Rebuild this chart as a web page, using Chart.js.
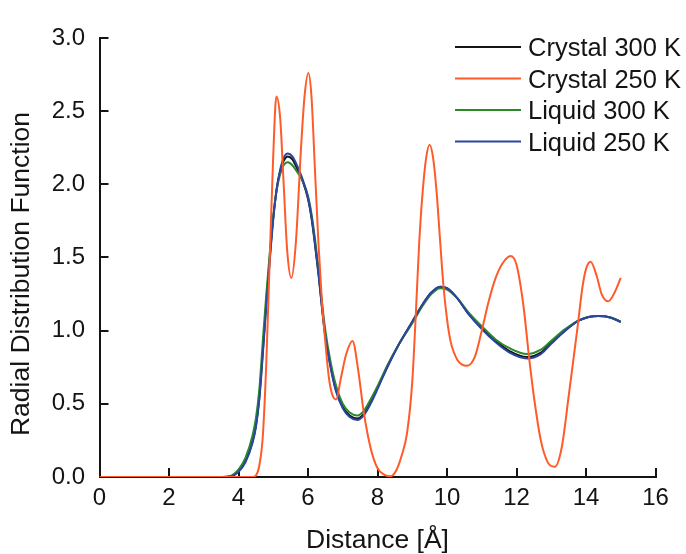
<!DOCTYPE html>
<html>
<head>
<meta charset="utf-8">
<script src="https://cdn.jsdelivr.net/npm/chart.js@4/dist/chart.umd.min.js"></script>
<style>
  html, body { margin: 0; padding: 0; background: #fff; }
  canvas { display: block; }
</style>
</head>
<body>
<canvas id="rdf" width="686" height="554"></canvas>
<script>
// Axis ticks
const xTicks = [0, 2, 4, 6, 8, 10, 12, 14, 16];
const xTickLabels = ['0', '2', '4', '6', '8', '10', '12', '14', '16'];
const yTicks = [0, 0.5, 1.0, 1.5, 2.0, 2.5, 3.0];
const yTickLabels = ['0.0', '0.5', '1.0', '1.5', '2.0', '2.5', '3.0'];

const seriesNames = ['Crystal 300 K', 'Crystal 250 K', 'Liquid 300 K', 'Liquid 250 K'];

// Crystal 250 K
const crystal250X = [0, 4.4, 4.5, 4.6, 4.7, 4.8, 4.9, 5.0, 5.09, 5.2, 5.3, 5.4, 5.52, 5.65, 5.8, 5.9, 6.01,
  6.1, 6.2, 6.3, 6.4, 6.5, 6.6, 6.7, 6.81, 6.95, 7.1, 7.28, 7.45, 7.6, 7.8, 8.0, 8.2, 8.37,
  8.55, 8.7, 8.85, 9.0, 9.1, 9.2, 9.3, 9.4, 9.5, 9.6, 9.7, 9.8, 9.9, 10.0, 10.1, 10.3, 10.58,
  10.8, 11.0, 11.2, 11.4, 11.6, 11.83, 12.0, 12.2, 12.36, 12.5, 12.7, 12.9, 13.1,
  13.3, 13.5, 13.75, 13.9, 14.0, 14.13, 14.3, 14.45, 14.64, 14.8, 15.0];
const crystal250Y = [0, 0, 0.01, 0.08, 0.28, 0.78, 1.5, 2.2, 2.6, 2.45, 2.0, 1.55, 1.36, 1.6, 2.25, 2.6, 2.76,
  2.6, 2.1, 1.6, 1.2, 0.92, 0.68, 0.56, 0.53, 0.68, 0.84, 0.93, 0.72, 0.45, 0.2, 0.06, 0.015, 0.005,
  0.05, 0.15, 0.3, 0.65, 1.1, 1.6, 1.95, 2.18, 2.27, 2.18, 1.95, 1.62, 1.3, 1.08, 0.93, 0.8, 0.76,
  0.82, 1.0, 1.2, 1.36, 1.46, 1.51, 1.45, 1.17, 0.82, 0.55, 0.25, 0.1, 0.07,
  0.2, 0.55, 1.01, 1.3, 1.42, 1.47, 1.38, 1.25, 1.2, 1.25, 1.36];

// Distances shared by the other three curves
const smoothX = [0, 3.55, 3.8, 4.0, 4.2, 4.4, 4.5, 4.6, 4.7, 4.8,
  4.9, 5.0, 5.1, 5.2, 5.3, 5.42, 5.55, 5.7, 5.85, 6.0,
  6.1, 6.2, 6.3, 6.4, 6.5, 6.64, 6.8, 7.0, 7.2, 7.42,
  7.6, 7.8, 8.0, 8.3, 8.6, 9.0, 9.3, 9.55, 9.8, 10.0,
  10.3, 10.6, 11.0, 11.4, 11.8, 12.3, 12.7, 13.0, 13.4, 13.8,
  14.35, 14.7, 15.0];
const crystal300Y = [0, 0, 0.005, 0.04, 0.11, 0.24, 0.35, 0.55, 0.86, 1.19,
  1.5, 1.77, 1.97, 2.09, 2.16, 2.19, 2.17, 2.1, 2.02, 1.9,
  1.77, 1.59, 1.39, 1.16, 0.96, 0.77, 0.6, 0.48, 0.42, 0.4,
  0.43, 0.51, 0.61, 0.76, 0.9, 1.06, 1.18, 1.26, 1.3, 1.29,
  1.22, 1.12, 1.02, 0.93, 0.86, 0.82, 0.85, 0.92, 1.0, 1.07,
  1.1, 1.09, 1.06];
const liquid300Y = [0, 0, 0.01, 0.05, 0.13, 0.28, 0.40, 0.6, 0.93, 1.25,
  1.53, 1.78, 1.96, 2.07, 2.13, 2.15, 2.13, 2.08, 2.02, 1.92,
  1.8, 1.63, 1.43, 1.2, 1.0, 0.8, 0.63, 0.5, 0.44, 0.42,
  0.45, 0.53, 0.62, 0.77, 0.9, 1.05, 1.17, 1.25, 1.29, 1.28,
  1.22, 1.13, 1.03, 0.94, 0.88, 0.84, 0.87, 0.93, 1.01, 1.07,
  1.1, 1.09, 1.06];
const liquid250Y = [0, 0, 0.005, 0.035, 0.1, 0.23, 0.34, 0.53, 0.84, 1.17,
  1.48, 1.76, 1.97, 2.1, 2.18, 2.21, 2.19, 2.12, 2.03, 1.91,
  1.78, 1.6, 1.4, 1.17, 0.96, 0.76, 0.59, 0.47, 0.41, 0.39,
  0.42, 0.5, 0.6, 0.76, 0.9, 1.06, 1.18, 1.26, 1.3, 1.29,
  1.22, 1.12, 1.01, 0.92, 0.85, 0.81, 0.84, 0.91, 1.0, 1.07,
  1.1, 1.09, 1.06];

const FONT = '"Liberation Sans", Arial, Helvetica, sans-serif';
const INK = '#141414';

const pts = (xs, ys) => xs.map((x, i) => ({ x, y: ys[i] }));

const line = (label, data, color, width, order) => ({
  label, data, order,
  borderColor: color,
  backgroundColor: color,
  borderWidth: width,
  pointRadius: 0,
  fill: false,
  cubicInterpolationMode: 'monotone'
});

// Legend at the upper right and the rotated y-axis title
const annotations = {
  id: 'annotations',
  afterDraw(chart) {
    const ctx = chart.ctx;
    ctx.save();
    ctx.fillStyle = INK;
    ctx.font = '26.5px ' + FONT;
    ctx.textAlign = 'center';
    ctx.textBaseline = 'alphabetic';
    ctx.translate(29, 274);
    ctx.rotate(-Math.PI / 2);
    ctx.fillText('Radial Distribution Function', 0, 0);
    ctx.restore();

    ctx.save();
    ctx.font = '25.5px ' + FONT;
    ctx.textAlign = 'left';
    ctx.textBaseline = 'alphabetic';
    const rows = [47, 78.5, 110, 141.5];
    chart.data.datasets.forEach((ds, i) => {
      const y = rows[i];
      ctx.strokeStyle = ds.borderColor;
      ctx.lineWidth = 2;
      ctx.beginPath();
      ctx.moveTo(455, y);
      ctx.lineTo(521, y);
      ctx.stroke();
      ctx.fillStyle = INK;
      ctx.fillText(ds.label, 528, y + 9);
    });
    ctx.restore();
  }
};

new Chart(document.getElementById('rdf'), {
  type: 'line',
  data: {
    datasets: [
      line(seriesNames[0], pts(smoothX, crystal300Y), '#151515', 2, 3),
      line(seriesNames[1], pts(crystal250X, crystal250Y), '#ff5a2a', 2, 0),
      line(seriesNames[2], pts(smoothX, liquid300Y), '#2a8a2a', 2, 2),
      line(seriesNames[3], pts(smoothX, liquid250Y), '#2c46a0', 2, 1)
    ]
  },
  options: {
    responsive: false,
    animation: false,
    layout: { padding: { left: 0, right: 30.5, top: 26, bottom: 0 } },
    plugins: { legend: { display: false }, tooltip: { enabled: false } },
    scales: {
      x: {
        type: 'linear',
        min: 0, max: 16,
        afterBuildTicks: (s) => { s.ticks = xTicks.map(v => ({ value: v })); },
        afterFit: (s) => { s.height = 77; },
        ticks: {
          padding: 16,
          color: INK,
          font: { family: FONT, size: 24 },
          callback: (v, i) => xTickLabels[i]
        },
        grid: { drawOnChartArea: false, drawTicks: true, tickLength: -9, color: INK, lineWidth: 2 },
        border: { display: true, color: INK, width: 2 },
        title: {
          display: true,
          text: 'Distance [Å]',
          color: INK,
          font: { family: FONT, size: 26.5 },
          padding: { top: 0, bottom: -3 }
        }
      },
      y: {
        type: 'linear',
        min: 0, max: 3,
        afterBuildTicks: (s) => { s.ticks = yTicks.map(v => ({ value: v })); },
        afterFit: (s) => { s.width = 99.5; },
        ticks: {
          padding: 23.5,
          color: INK,
          font: { family: FONT, size: 24 },
          callback: (v, i) => yTickLabels[i]
        },
        grid: { drawOnChartArea: false, drawTicks: true, tickLength: -9, color: INK, lineWidth: 2 },
        border: { display: true, color: INK, width: 2 }
      }
    }
  },
  plugins: [annotations]
});
</script>
</body>
</html>
